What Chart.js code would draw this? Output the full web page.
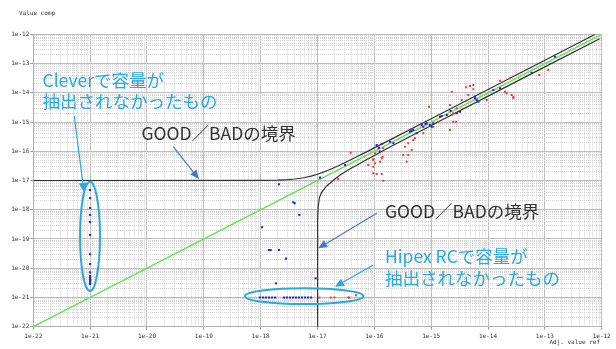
<!DOCTYPE html>
<html><head><meta charset="utf-8">
<script src="https://cdn.jsdelivr.net/npm/chart.js@4.4.0/dist/chart.umd.min.js"></script>
<style>html,body{margin:0;padding:0;background:#fff;}canvas{display:block;}</style>
</head><body><canvas id="c" width="616" height="349" style="width:616px;height:349px"></canvas>
<script>
// ---- tick labels ----
const decadeExps = [-22,-21,-20,-19,-18,-17,-16,-15,-14,-13,-12];
const tickLabels = ['1e-22','1e-21','1e-20','1e-19','1e-18','1e-17','1e-16','1e-15','1e-14','1e-13','1e-12'];
const minorMultipliers = [2,3,4,5,6,7,8,9];

// ---- blue series (comp extracted) ----
const blueX = [
  1.10e-16,1.35e-16,1.26e-16,1.89e-16,2.16e-16,4.24e-16,4.84e-16,5.56e-16,6.81e-16,7.26e-16,
  8.34e-16,9.53e-16,1.02e-15,1.09e-15,1.43e-15,1.53e-15,1.88e-15,2.81e-15,3.21e-15,5.90e-15,
  6.32e-15,6.75e-15,1.24e-14,1.63e-14,1.51e-13,5.86e-14,5.90e-15,3.05e-17,1.20e-16,4.50e-16,
  8.00e-16,2.20e-15,
  2.10e-18,3.75e-18,3.97e-18,4.79e-18,1.11e-17,1.06e-18,1.40e-18,1.50e-18,2.10e-18,2.79e-18,
  1.86e-18,9.29e-18,
  9.7e-19,1.10e-18,1.24e-18,1.40e-18,1.58e-18,1.79e-18,2.57e-18,2.90e-18,3.28e-18,3.71e-18,
  4.19e-18,4.72e-18,5.33e-18,6.03e-18,6.81e-18,7.69e-18,
  1e-21,1e-21,1e-21,1e-21,1e-21,1e-21,1e-21,1e-21,1e-21,1e-21,1e-21,1e-21,1e-21,1e-21,1e-21,1e-21
];
const blueY = [
  1.64e-16,1.77e-16,9.7e-17,2.12e-16,1.87e-16,4.67e-16,5.33e-16,4.11e-16,7.91e-16,6.92e-16,
  9.04e-16,7.91e-16,6.92e-16,9.04e-16,1.52e-15,1.61e-15,1.74e-15,1.99e-15,2.25e-15,6.47e-15,
  5.66e-15,4.95e-15,1.25e-14,1.42e-14,1.71e-13,4.86e-14,7.35e-15,3.39e-17,1.30e-16,5.00e-16,
  8.50e-16,2.40e-15,
  7.41e-18,1.80e-18,1.66e-18,6.61e-19,1.25e-17,2.51e-19,4.20e-20,4.20e-20,4.20e-20,2.12e-20,
  3.05e-21,4.52e-21,
  1.0e-21,1.0e-21,1.0e-21,1.0e-21,1.0e-21,1.0e-21,1.0e-21,1.0e-21,1.0e-21,1.0e-21,
  1.0e-21,1.0e-21,1.0e-21,1.0e-21,1.0e-21,1.0e-21,
  4.73e-18,2.52e-18,1.15e-18,6.61e-19,3.81e-19,1.37e-19,2.99e-20,1.39e-20,7.24e-21,5.42e-21,
  4.89e-21,4.38e-21,3.95e-21,3.57e-21,3.20e-21,2.88e-21
];

// ---- red series ----
const redX = [
  9.16e-16,2.14e-15,2.30e-15,4.10e-15,5.51e-15,4.50e-15,3.44e-15,2.81e-15,2.30e-15,2.45e-15,
  2.74e-15,2.14e-15,7.26e-16,5.19e-16,4.84e-16,3.95e-16,4.54e-16,3.46e-16,3.23e-16,3.95e-16,
  3.71e-16,1.44e-16,1.03e-16,9.59e-17,1.35e-16,7.83e-17,9.59e-17,1.10e-16,1.35e-16,1.44e-16,
  2.13e-14,2.79e-14,1.33e-15,1.09e-15,2.45e-15,9.48e-15,1.15e-13,7.98e-14,2.44e-14,1.63e-14,
  4.82e-15,5.51e-15,1.99e-14,2.61e-14,2.79e-14,3.84e-17,9.59e-17,1.03e-16,1.26e-16,1.40e-16,
  9.59e-17,2.32e-17,
  1.08e-17,1.71e-17,1.98e-17,3.48e-17,3.62e-17,4.75e-17
];
const redY = [
  3.34e-15,3.82e-15,1.09e-14,1.54e-14,1.85e-14,8.40e-15,5.66e-15,2.94e-15,1.74e-15,1.03e-15,
  1.03e-15,5.33e-16,4.11e-16,2.77e-16,2.43e-16,1.87e-16,1.10e-16,1.43e-16,7.45e-17,7.45e-17,
  4.40e-17,1.26e-16,8.51e-17,5.02e-17,5.74e-17,3.39e-17,2.96e-17,1.67e-17,1.67e-17,9.84e-18,
  9.60e-15,7.35e-15,1.03e-15,6.92e-16,1.99e-15,5.66e-15,6.01e-14,4.06e-14,3.13e-14,2.59e-14,
  1.71e-14,1.32e-14,1.09e-14,8.40e-15,6.47e-15,8.93e-17,5.31e-17,3.87e-17,4.40e-17,6.52e-17,
  1.76e-17,1.12e-17,
  1.0e-21,1.0e-21,1.0e-21,1.0e-21,1.0e-21,1.19e-21
];

// ---- reference lines ----
const equalX = [1e-22, 1e-12];
const equalY = [1e-22, 1e-12];
const upperX = [1e-22,1e-18,2e-18,3e-18,4e-18,5e-18,6e-18,7e-18,8e-18,1e-17,1.2e-17,1.5e-17,2e-17,2.5e-17,3e-17,4e-17,5e-17,7e-17,1e-16,2e-16,1e-15,1e-14,1e-13,7.7e-13];
const upperY = [1e-17,1.008e-17,1.033e-17,1.073e-17,1.127e-17,1.193e-17,1.268e-17,1.352e-17,1.443e-17,1.64e-17,1.853e-17,2.191e-17,2.786e-17,3.40e-17,4.026e-17,5.295e-17,6.576e-17,9.155e-17,1.304e-16,2.6e-16,1.3e-15,1.3e-14,1.3e-13,1.0e-12];
const lowerX = [1e-17,1.003e-17,1.01e-17,1.03e-17,1.08e-17,1.19e-17,1.45e-17,2e-17,2.5e-17,3.5e-17,5e-17,7e-17,1e-16,1.5e-16,3e-16,1e-15,1e-14,1e-13,9.2e-13];
const lowerY = [1e-22,1e-19,5e-19,1.3e-18,2.6e-18,4e-18,6.5e-18,1.1e-17,1.55e-17,2.35e-17,3.4e-17,4.9e-17,7.2e-17,1.1e-16,2.25e-16,7.6e-16,7.7e-15,7.7e-14,7.0e-13];

const CYAN = '#2aa8de';
const STEEL = '#4a76c6';
const annotations = {
  ellipses: [
    {x1:6.64e-22, x2:1.49e-21, y1:9.1e-18, y2:1.66e-21},
    {x1:5.3e-19, x2:6.4e-17, y1:2.06e-21, y2:5.97e-22}
  ],
  arrows: [
    {x1:5.26e-22, y1:1.61e-15, x2:7.8e-22, y2:4.05e-18, color:CYAN},
    {x1:2.9e-20, y1:1.43e-16, x2:8.2e-20, y2:1.12e-17, color:STEEL},
    {x1:1.1e-16, y1:7.55e-19, x2:1.03e-17, y2:4.8e-20, color:STEEL},
    {x1:9.6e-17, y1:1.29e-20, x2:2.03e-17, y2:2.33e-21, color:CYAN}
  ],
  texts: [
    {x:1.45e-22, y:2.74e-14, lines:['Cleverで容量が','抽出されなかったもの'], color:CYAN},
    {x:8.0e-21, y:4.05e-16, lines:['GOOD／BADの境界'], color:'#333'},
    {x:1.54e-16, y:9.06e-19, lines:['GOOD／BADの境界'], color:'#333'},
    {x:1.54e-16, y:2.52e-20, lines:['Hipex RCで容量が','抽出されなかったもの'], color:CYAN}
  ]
};

const toPts = (xs, ys) => xs.map((x, i) => ({x, y: ys[i]}));
const allTicks = [];
decadeExps.forEach((e, i) => {
  allTicks.push(Math.pow(10, e));
  if (i < decadeExps.length - 1) minorMultipliers.forEach(m => allTicks.push(m * Math.pow(10, e)));
});
function decadeIndex(v) {
  if (!v) return -1;
  const l = Math.log10(v);
  const r = Math.round(l);
  if (Math.abs(l - r) > 1e-6) return -1;
  return decadeExps.indexOf(r);
}

const bgPlugin = {
  id: 'bg',
  beforeDraw(chart) {
    const c = chart.ctx; c.save(); c.fillStyle = '#fff'; c.fillRect(0, 0, chart.width, chart.height); c.restore();
  }
};
const overlayPlugin = {
  id: 'overlay',
  afterDraw(chart) {
    const c = chart.ctx, sx = chart.scales.x, sy = chart.scales.y;
    const px = v => sx.getPixelForValue(v), py = v => sy.getPixelForValue(v);
    c.save();
    c.fillStyle = '#333';
    c.font = '6px "DejaVu Sans Mono"';
    c.textBaseline = 'middle';
    c.textAlign = 'left';
    c.fillText('Value comp', 19, 13);
    c.textAlign = 'right';
    c.fillText('Adj. value ref', 600, 342.5);
    c.strokeStyle = CYAN; c.lineWidth = 2;
    annotations.ellipses.forEach(e => {
      const a = px(e.x1), b = px(e.x2), t = py(e.y1), u = py(e.y2);
      c.beginPath();
      c.ellipse((a + b) / 2, (t + u) / 2, Math.abs(b - a) / 2, Math.abs(u - t) / 2, 0, 0, Math.PI * 2);
      c.stroke();
    });
    annotations.arrows.forEach(ar => {
      const x1 = px(ar.x1), y1 = py(ar.y1), x2 = px(ar.x2), y2 = py(ar.y2);
      const ang = Math.atan2(y2 - y1, x2 - x1);
      const L = 9, W = 4;
      const bx = x2 - L * Math.cos(ang), by = y2 - L * Math.sin(ang);
      c.strokeStyle = ar.color; c.fillStyle = ar.color; c.lineWidth = 1.2;
      c.beginPath(); c.moveTo(x1, y1); c.lineTo(bx, by); c.stroke();
      c.beginPath();
      c.moveTo(x2, y2);
      c.lineTo(bx + W * Math.sin(ang), by - W * Math.cos(ang));
      c.lineTo(bx - W * Math.sin(ang), by + W * Math.cos(ang));
      c.closePath(); c.fill();
    });
    c.font = '17.5px "Noto Sans CJK JP", "Noto Sans", sans-serif';
    c.textAlign = 'left'; c.textBaseline = 'middle';
    annotations.texts.forEach(t => {
      c.fillStyle = t.color;
      t.lines.forEach((ln, i) => c.fillText(ln, px(t.x), py(t.y) + i * 21.5));
    });
    c.restore();
  }
};

const gridColor = ctx => decadeIndex(ctx.tick && ctx.tick.value) >= 0 ? '#bdbdbd' : '#d4d4d4';
const tickColor = ctx => decadeIndex(ctx.tick && ctx.tick.value) >= 0 ? '#999' : 'rgba(0,0,0,0)';
const gridDash = ctx => (!ctx.tick || decadeIndex(ctx.tick.value) >= 0) ? [] : [1, 1];
const labelCb = v => { const i = decadeIndex(v); return i >= 0 ? tickLabels[i] : ''; };
const tickFont = {family: 'DejaVu Sans Mono', size: 6};

new Chart(document.getElementById('c'), {
  type: 'scatter',
  data: {
    datasets: [
      {label: 'blue', data: toPts(blueX, blueY), backgroundColor: '#2626d6', borderWidth: 0, pointStyle: 'rect', pointRadius: 1.5, order: 0},
      {label: 'red', data: toPts(redX, redY), backgroundColor: '#f03a3a', borderWidth: 0, pointStyle: 'rect', pointRadius: 1.4, order: 1},
      {label: 'upper', data: toPts(upperX, upperY), showLine: true, borderColor: '#333', borderWidth: 1.2, pointRadius: 0, tension: 0, order: 2},
      {label: 'lower', data: toPts(lowerX, lowerY), showLine: true, borderColor: '#333', borderWidth: 1.2, pointRadius: 0, tension: 0, order: 2},
      {label: 'equal', data: toPts(equalX, equalY), showLine: true, borderColor: '#6ade55', borderWidth: 1.3, pointRadius: 0, order: 3}
    ]
  },
  options: {
    responsive: false,
    animation: false,
    devicePixelRatio: 1,
    layout: {padding: {top: 34.3, right: 14.3, left: 0, bottom: 0}},
    plugins: {legend: {display: false}, tooltip: {enabled: false}},
    scales: {
      x: {
        type: 'logarithmic', min: 1e-22, max: 1e-12,
        afterBuildTicks: a => { a.ticks = allTicks.map(v => ({value: v})); },
        afterFit: s => { s.height = 22.3; s.paddingLeft = 0; s.paddingRight = 0; },
        ticks: {autoSkip: false, maxRotation: 0, minRotation: 0, callback: labelCb, font: tickFont, color: '#333', padding: 3},
        grid: {color: gridColor, lineWidth: 1, tickLength: 3, tickColor: tickColor},
        border: {display: true, color: '#b0b0b0', dash: gridDash}
      },
      y: {
        type: 'logarithmic', min: 1e-22, max: 1e-12,
        afterBuildTicks: a => { a.ticks = allTicks.map(v => ({value: v})); },
        afterFit: s => { s.width = 33.3; s.paddingTop = 0; s.paddingBottom = 0; },
        ticks: {autoSkip: false, callback: labelCb, font: tickFont, color: '#333', padding: 1},
        grid: {color: gridColor, lineWidth: 1, tickLength: 3, tickColor: tickColor},
        border: {display: true, color: '#b0b0b0', dash: gridDash}
      }
    }
  },
  plugins: [bgPlugin, overlayPlugin]
});
</script>
</body></html>
